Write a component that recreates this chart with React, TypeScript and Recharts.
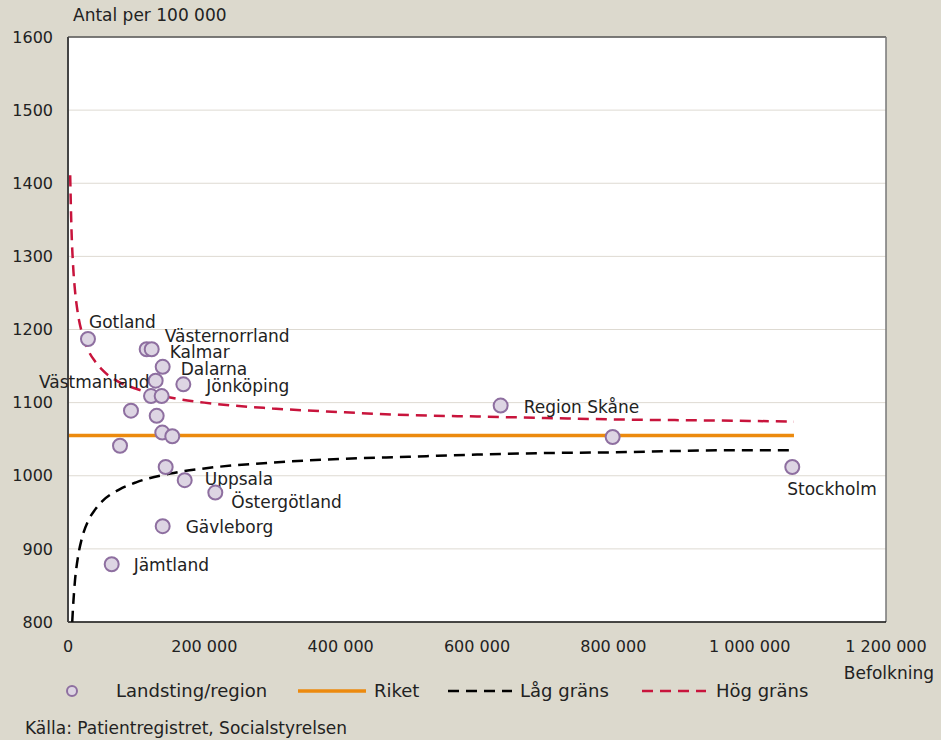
import { ComposedChart, Line, Scatter, XAxis, YAxis, CartesianGrid, ReferenceLine } from 'recharts';

// landsting/regioner: befolkning och antal per 100 000
const regionNames = [
  'Gotland', 'Västernorrland', 'Kalmar', 'Dalarna', 'Västmanland', 'Jönköping',
  '', '', '', '', '', '', '', '',
  'Uppsala', 'Östergötland', 'Gävleborg', 'Jämtland', 'Region Skåne', '', 'Stockholm',
];
const regionPop = [
  29300, 115400, 122800, 138900, 128600, 169200,
  121800, 137400, 92400, 130100, 138300, 153000, 76300, 143300,
  171200, 216100, 138900, 64100, 634700, 799000, 1062500,
];
const regionRate = [
  1187, 1173, 1173, 1149, 1130, 1125,
  1109, 1109, 1089, 1082, 1059, 1054, 1041, 1012,
  994, 977, 931, 879, 1096, 1053, 1012,
];

const riketPop = [0, 1065000];
const riketRate = [1055, 1055];

const highPop = [3200, 5000, 7500, 10000, 15000, 20000, 30000, 40000, 50000, 75000, 100000, 150000, 200000, 300000, 400000, 500000, 600000, 700000, 800000, 900000, 1000000, 1065000];
const highRate = [1411, 1340, 1287, 1256, 1219, 1197, 1171, 1156, 1145, 1128, 1119, 1107, 1100, 1092, 1087, 1083, 1081, 1079, 1077, 1076, 1075, 1074];

const lowPop = [6200, 7500, 10000, 15000, 20000, 30000, 40000, 50000, 75000, 100000, 150000, 200000, 300000, 400000, 500000, 600000, 700000, 800000, 900000, 1000000, 1065000];
const lowRate = [800, 822, 854, 891, 913, 939, 954, 965, 981, 991, 1003, 1010, 1018, 1023, 1026, 1029, 1031, 1032, 1034, 1035, 1035];

const xTicks = [0, 200000, 400000, 600000, 800000, 1000000, 1200000];
const yTicks = [800, 900, 1000, 1100, 1200, 1300, 1400, 1500, 1600];

// where each label sits relative to its point
const labelPlace: Record<string, [number, number, 'start' | 'end']> = {
  'Gotland': [1, -17, 'start'],
  'Västernorrland': [18, -13, 'start'],
  'Kalmar': [18, 3, 'start'],
  'Dalarna': [18, 2, 'start'],
  'Västmanland': [-6, 1, 'end'],
  'Jönköping': [23, 2, 'start'],
  'Uppsala': [20, -1, 'start'],
  'Östergötland': [16, 9, 'start'],
  'Gävleborg': [23, 1, 'start'],
  'Jämtland': [22, 1, 'start'],
  'Region Skåne': [23, 1, 'start'],
  'Stockholm': [-5, 22, 'start'],
};

const pts = regionNames.map((name, i) => ({ name, x: regionPop[i], y: regionRate[i] }));
const riket = riketPop.map((x, i) => ({ x, y: riketRate[i] }));
const high = highPop.map((x, i) => ({ x, y: highRate[i] }));
const low = lowPop.map((x, i) => ({ x, y: lowRate[i] }));

const font = '"DejaVu Sans", sans-serif';
const ink = '#222';
const dash = '11 7';

const fmt = (v: number) => String(v).replace(/\B(?=(\d{3})+(?!\d))/g, ' ');

function Dot(props: any) {
  const { cx, cy, payload } = props;
  const lp = labelPlace[payload.name];
  return (
    <g>
      <circle cx={cx} cy={cy} r={7} fill="#ddd5e3" stroke="#8e6fa0" strokeWidth={2} />
      {lp && (
        <text x={cx + lp[0]} y={cy + lp[1]} dy="0.36em" textAnchor={lp[2]} fontSize={17} fontFamily={font} fill={ink}>
          {payload.name}
        </text>
      )}
    </g>
  );
}

export default function App() {
  return (
    <div style={{ position: 'absolute', left: 0, top: 0, width: 941, height: 740, background: '#dcd9cd', fontFamily: font, color: ink }}>
      <div style={{ position: 'absolute', left: 73, top: 5, fontSize: 17 }}>Antal per 100 000</div>
      <ComposedChart width={941} height={740} margin={{ top: 37, right: 55, bottom: 88, left: 0 }}>
        <CartesianGrid vertical={false} stroke="#dedad2" fill="#fff" />
        <XAxis type="number" dataKey="x" domain={[0, 1200000]} ticks={xTicks} tickFormatter={fmt}
          tickLine={false} tickSize={6} tickMargin={13} axisLine={{ stroke: '#111', strokeWidth: 1.5 }}
          tick={{ fontSize: 16, fontFamily: font, fill: ink }} />
        <YAxis type="number" dataKey="y" domain={[800, 1600]} ticks={yTicks} width={68}
          tickLine={false} tickSize={6} tickMargin={9} axisLine={{ stroke: '#444', strokeWidth: 2 }}
          tick={{ fontSize: 16, fontFamily: font, fill: ink }} />
        <ReferenceLine y={1600} stroke="#555" strokeWidth={1.5} />
        <ReferenceLine x={1200000} stroke="#777" strokeWidth={1.5} />
        <Line data={high} dataKey="y" type="monotone" stroke="#c8143c" strokeWidth={2.5} strokeDasharray={dash} dot={false} isAnimationActive={false} />
        <Line data={low} dataKey="y" type="monotone" stroke="#000" strokeWidth={2.5} strokeDasharray={dash} dot={false} isAnimationActive={false} />
        <Line data={riket} dataKey="y" type="linear" stroke="#ec8a0e" strokeWidth={3.5} dot={false} isAnimationActive={false} />
        <Scatter data={pts} dataKey="y" shape={<Dot />} isAnimationActive={false} />
      </ComposedChart>
      <div style={{ position: 'absolute', right: 7, top: 663, fontSize: 17 }}>Befolkning</div>
      <svg width={941} height={30} style={{ position: 'absolute', left: 0, top: 676 }}>
        <circle cx={72} cy={15} r={5} fill="#ddd5e3" stroke="#8e6fa0" strokeWidth={2} />
        <text x={116} y={15} dy="0.36em" fontSize={18} fontFamily={font} fill={ink}>Landsting/region</text>
        <line x1={298} x2={366} y1={15} y2={15} stroke="#ec8a0e" strokeWidth={3.5} />
        <text x={374} y={15} dy="0.36em" fontSize={18} fontFamily={font} fill={ink}>Riket</text>
        <line x1={448} x2={512} y1={15} y2={15} stroke="#000" strokeWidth={2.5} strokeDasharray={dash} />
        <text x={520} y={15} dy="0.36em" fontSize={18} fontFamily={font} fill={ink}>Låg gräns</text>
        <line x1={642} x2={706} y1={15} y2={15} stroke="#c8143c" strokeWidth={2.5} strokeDasharray={dash} />
        <text x={716} y={15} dy="0.36em" fontSize={18} fontFamily={font} fill={ink}>Hög gräns</text>
      </svg>
      <div style={{ position: 'absolute', left: 25, top: 718, fontSize: 17 }}>Källa: Patientregistret, Socialstyrelsen</div>
    </div>
  );
}
